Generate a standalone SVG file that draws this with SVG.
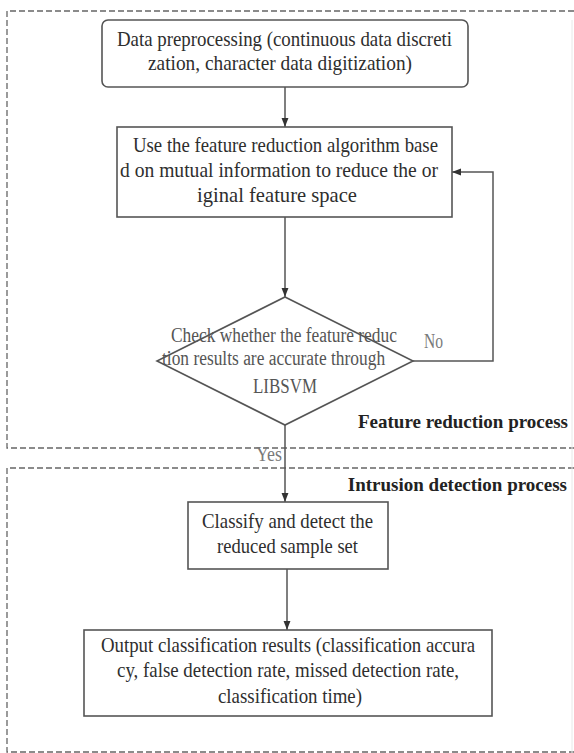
<svg xmlns="http://www.w3.org/2000/svg" width="574" height="753" viewBox="0 0 574 753">
<style>
.t{font-family:"Liberation Serif","Times New Roman",serif;font-size:21.5px;fill:#2e2e2e}
.d{font-family:"Liberation Serif","Times New Roman",serif;font-size:20px;fill:#555}
.lb{font-family:"Liberation Serif","Times New Roman",serif;font-size:20px;fill:#7a7a7a}
.b{font-family:"Liberation Serif","Times New Roman",serif;font-size:19px;font-weight:bold;fill:#222;text-anchor:end}
.box{fill:#fff;stroke:#555;stroke-width:1.6}
.grp{fill:none;stroke:#666;stroke-width:1.3;stroke-dasharray:6 3}
.ln{fill:none;stroke:#555;stroke-width:1.5}
</style>
<defs>
<marker id="ah" markerWidth="9" markerHeight="12" refX="10" refY="5" orient="auto" markerUnits="userSpaceOnUse" viewBox="0 0 10 10">
<path d="M0,1.2 L10,5 L0,8.8 Z" fill="#333"/>
</marker>
</defs>
<rect width="574" height="753" fill="#fff"/>
<g id="groups">
<path class="grp" d="M574 11 H7 V448 H574"/>
<path class="grp" d="M574 468 H7 V752 H574"/>
<line x1="572" y1="20" x2="572" y2="753" stroke="#e8e8e8" stroke-width="1"/>
<text class="b" x="568" y="428">Feature reduction process</text>
<text class="b" x="567" y="491">Intrusion detection process</text>
</g>
<g id="connectors">
<line class="ln" x1="285" y1="87" x2="285" y2="127" marker-end="url(#ah)"/>
<line class="ln" x1="285" y1="217" x2="285" y2="297" marker-end="url(#ah)"/>
<polyline class="ln" points="413,361 493,361 493,172 452,172" marker-end="url(#ah)"/>
<line class="ln" x1="285" y1="425" x2="285" y2="502" marker-end="url(#ah)"/>
<line class="ln" x1="287" y1="569" x2="287" y2="630" marker-end="url(#ah)"/>
<text class="lb" x="424" y="348" textLength="19" lengthAdjust="spacingAndGlyphs">No</text>
<text class="lb" x="256" y="461" textLength="26" lengthAdjust="spacingAndGlyphs" fill="#888">Yes</text>
</g>
<g id="preprocess">
<rect class="box" x="102" y="20" width="366" height="67" rx="6"/>
<text class="t" x="117" y="46" textLength="335" lengthAdjust="spacingAndGlyphs">Data preprocessing (continuous data discreti</text>
<text class="t" x="148" y="70" textLength="264" lengthAdjust="spacingAndGlyphs">zation, character data digitization)</text>
</g>
<g id="reduce">
<rect class="box" x="117" y="127" width="335" height="90"/>
<text class="t" x="133" y="152" textLength="305" lengthAdjust="spacingAndGlyphs">Use the feature reduction algorithm base</text>
<text class="t" x="120" y="177" textLength="318" lengthAdjust="spacingAndGlyphs">d on mutual information to reduce the or</text>
<text class="t" x="197" y="202" textLength="160" lengthAdjust="spacingAndGlyphs">iginal feature space</text>
</g>
<g id="check">
<polygon class="box" points="285,297 413,361 285,425 157,361"/>
<text class="d" transform="translate(171 342) scale(0.87 1)">Check whether the feature reduc</text>
<text class="d" transform="translate(162 365) scale(0.87 1)">tion results are accurate through</text>
<text class="d" x="253" y="393" textLength="64" lengthAdjust="spacingAndGlyphs">LIBSVM</text>
</g>
<g id="classify">
<rect class="box" x="188" y="502" width="200" height="67"/>
<text class="t" x="202" y="528" textLength="171" lengthAdjust="spacingAndGlyphs">Classify and detect the</text>
<text class="t" x="217" y="553" textLength="141" lengthAdjust="spacingAndGlyphs">reduced sample set</text>
</g>
<g id="output">
<rect class="box" x="84" y="630" width="408" height="86"/>
<text class="t" x="101" y="652" textLength="374" lengthAdjust="spacingAndGlyphs">Output classification results (classification accura</text>
<text class="t" x="117" y="677" textLength="342" lengthAdjust="spacingAndGlyphs">cy, false detection rate, missed detection rate,</text>
<text class="t" x="218" y="703" textLength="144" lengthAdjust="spacingAndGlyphs">classification time)</text>
</g>
</svg>
